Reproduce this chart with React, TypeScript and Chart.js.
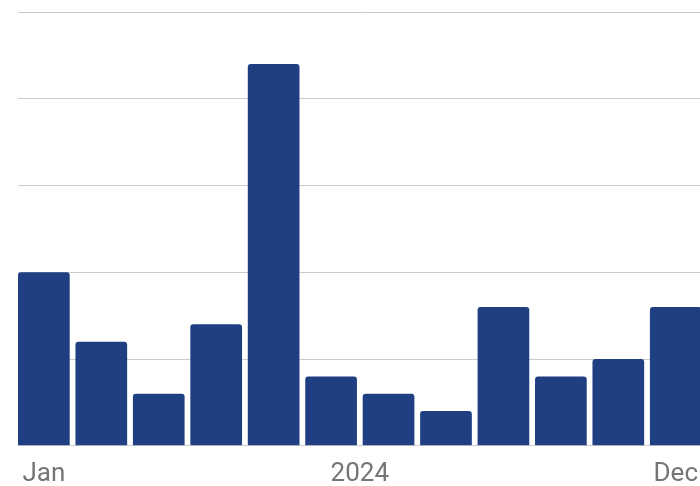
import React, { useEffect, useRef } from "react";
import { Chart, registerables } from "chart.js";

Chart.register(...registerables);

const months = ["Jan", "Feb", "Mar", "Apr", "May", "Jun", "Jul", "Aug", "Sep", "Oct", "Nov", "Dec"];
const values = [10, 6, 3, 7, 22, 4, 3, 2, 8, 4, 5, 8];
const tickLabels = ["Jan", "2024", "Dec"];
const tickMonthIndex = [0, 5.5, 11];

export default function App() {
  const ref = useRef<HTMLCanvasElement | null>(null);

  useEffect(() => {
    if (!ref.current) return;
    const chart = new Chart(ref.current, {
      type: "bar",
      data: {
        datasets: [
          {
            label: "Value",
            data: months.map((m, i) => ({ x: i, y: values[i] })),
            backgroundColor: "#1f3f82",
            borderRadius: { topLeft: 3, topRight: 3, bottomLeft: 0, bottomRight: 0 },
            borderSkipped: false,
            barPercentage: 0.9,
            categoryPercentage: 1,
          },
        ],
      },
      options: {
        animation: false,
        responsive: false,
        layout: { padding: { left: 18, top: 12, right: 0, bottom: 0 } },
        plugins: { legend: { display: false }, tooltip: { enabled: false } },
        scales: {
          x: {
            type: "linear",
            offset: false,
            min: -0.45,
            max: 11.55,
            grid: { display: false, drawTicks: false, offset: false },
            border: { display: false },
            afterBuildTicks: (scale: any) => {
              scale.ticks = tickMonthIndex.map((v) => ({ value: v }));
            },
            ticks: {
              autoSkip: false,
              maxRotation: 0,
              padding: 13,
              color: "#757575",
              font: { family: "Roboto", size: 26 },
              callback: (value: any, index: number) => tickLabels[index] ?? "",
            },
          },
          y: {
            min: 0,
            max: 25,
            ticks: { display: false, stepSize: 5 },
            grid: { color: "#cccccc", lineWidth: 1, drawTicks: false },
            border: { display: false },
          },
        },
      },
    });
    return () => chart.destroy();
  }, []);

  return (
    <div style={{ position: "fixed", left: 0, top: 0, width: 711, height: 503, background: "#fff" }}>
      <canvas ref={ref} width={711} height={503} />
    </div>
  );
}
